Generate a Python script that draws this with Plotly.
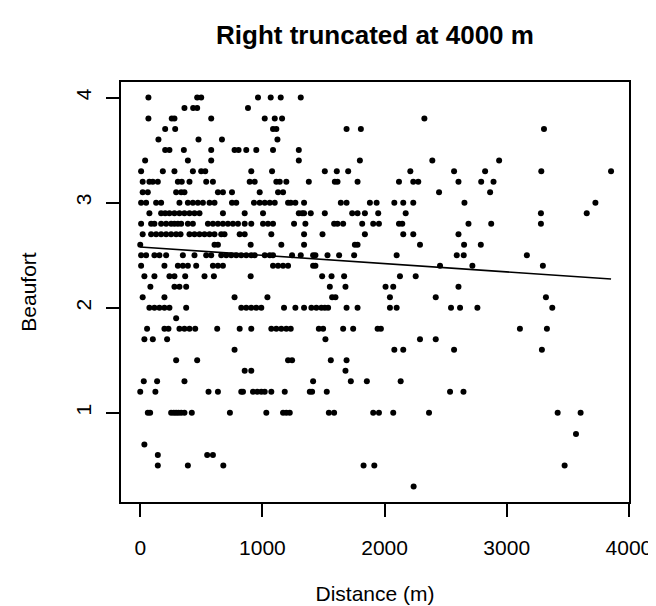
import plotly.graph_objects as go

# Distances (m) read per Beaufort level
b40 = [67, 466, 499, 964, 1068, 1150, 1314]
b39 = [362, 433, 466, 882]
b38 = [67, 258, 280, 581, 1019, 1101, 1161, 2326]
b37 = [204, 286, 1087, 1114, 1689, 1806, 3305]
b36 = [149, 477, 669, 1123]
b35 = [204, 239, 357, 581, 772, 805, 868, 950, 1087, 1298]
b34 = [40, 390, 581, 1298, 1798, 2391, 2938]
b33 = [7, 185, 280, 431, 499, 532, 909, 1079, 1511, 1609, 1702, 2211, 2569, 2823, 3283, 3854]
b32 = [20, 75, 103, 144, 308, 340, 403, 540, 595, 896, 937, 1114, 1142, 1196, 1380, 1593,
       1615, 1779, 2118, 2235, 2276, 2605, 2791, 2892]
b31 = [20, 62, 294, 335, 362, 636, 677, 751, 978, 1128, 1169, 2446, 2864]
b30 = [7, 48, 130, 171, 321, 390, 431, 472, 513, 567, 608, 751, 786, 931, 978, 1019, 1060,
       1101, 1210, 1232, 1270, 1341, 1642, 1689, 1880, 1935, 2080, 2153, 2235, 2654, 3726]
b29 = [75, 171, 204, 239, 280, 321, 362, 403, 444, 485, 677, 855, 1005, 1298, 1325, 1341,
       1396, 1511, 1735, 1779, 1839, 1948, 2173, 3280, 3655]
b28 = [7, 89, 116, 171, 212, 253, 280, 308, 335, 390, 431, 554, 595, 636, 677, 718, 759, 800,
       855, 909, 1005, 1046, 1087, 1259, 1352, 1587, 1615, 1661, 1817, 1907, 1954, 2118, 2145,
       2687, 2873, 3280]
b27 = [20, 89, 130, 171, 212, 253, 294, 330, 403, 444, 485, 526, 567, 608, 663, 690, 814, 855,
       1073, 1341, 1492, 1839, 2153, 2235, 2605]
b26 = [0, 608, 636, 904, 1155, 1341, 1757, 1779, 2290, 2651, 2788]
b25 = [7, 48, 116, 157, 212, 349, 444, 540, 581, 663, 704, 745, 786, 827, 868, 909, 937, 1019,
       1060, 1087, 1243, 1314, 1415, 1434, 1533, 1628, 1751, 2099, 2591, 2648, 3165]
b24 = [7, 198, 308, 349, 390, 458, 595, 636, 677, 1087, 1128, 1169, 1210, 1415, 1434, 2454,
       2719, 3296]
b23 = [34, 116, 239, 280, 368, 526, 603, 904, 1489, 1566, 1669, 2126, 2255]
b22 = [83, 280, 321, 376, 1552, 1680, 2008, 2071, 2605]
b21 = [20, 198, 772, 1041, 1571, 1598, 2044, 2419, 3321]
b20 = [75, 116, 157, 198, 239, 376, 827, 868, 909, 950, 991, 1177, 1270, 1341, 1401, 1442,
       1483, 1511, 1538, 1689, 1779, 2044, 2099, 2544, 2618, 2760, 3373]
b19 = [294]
b18 = [56, 198, 231, 321, 362, 403, 450, 630, 814, 909, 1073, 1114, 1155, 1196, 1232, 1462,
       1497, 1661, 1743, 1943, 1970, 3108, 3329]
b17 = [34, 103, 220, 1516, 2290, 2419]
b16 = [772, 2080, 2153, 2569, 3288]
b15 = [294, 466, 1210, 1243, 1560, 1689]
b14 = [855, 909, 1680]
b13 = [29, 138, 362, 1415, 1724, 1855, 2132]
b12 = [0, 124, 559, 636, 827, 841, 923, 958, 991, 1019, 1073, 1183, 1388, 1407, 1527, 2536, 2646]
b10 = [62, 81, 253, 275, 294, 313, 335, 362, 422, 734, 1032, 1169, 1196, 1224, 1544, 1587,
       1907, 1954, 2071, 2364, 3417, 3605]
b08 = [3567]
b07 = [34]
b06 = [144, 548, 595]
b05 = [144, 390, 680, 1828, 1916, 3474]
b03 = [2238]

levels = [(4.0, b40), (3.9, b39), (3.8, b38), (3.7, b37), (3.6, b36), (3.5, b35), (3.4, b34),
          (3.3, b33), (3.2, b32), (3.1, b31), (3.0, b30), (2.9, b29), (2.8, b28), (2.7, b27),
          (2.6, b26), (2.5, b25), (2.4, b24), (2.3, b23), (2.2, b22), (2.1, b21), (2.0, b20),
          (1.9, b19), (1.8, b18), (1.7, b17), (1.6, b16), (1.5, b15), (1.4, b14), (1.3, b13),
          (1.2, b12), (1.0, b10), (0.8, b08), (0.7, b07), (0.6, b06), (0.5, b05), (0.3, b03)]

distance = []
beaufort = []
for lev, dists in levels:
    distance.extend(dists)
    beaufort.extend([lev] * len(dists))

# Linear fit
fit_intercept = 2.578
fit_slope = -7.9e-5
fit_x = [min(distance), max(distance)]
fit_y = [fit_intercept + fit_slope * v for v in fit_x]

x_ticks = [0, 1000, 2000, 3000, 4000]
y_ticks = [1, 2, 3, 4]

FONT = "Liberation Sans, Arial, Helvetica, sans-serif"

fig = go.Figure()
fig.add_trace(go.Scatter(x=distance, y=beaufort, mode="markers",
                         marker=dict(color="black", size=6, line=dict(width=0)),
                         showlegend=False, hoverinfo="x+y"))
fig.add_trace(go.Scatter(x=fit_x, y=fit_y, mode="lines",
                         line=dict(color="black", width=1.6),
                         showlegend=False, hoverinfo="skip"))

fig.update_layout(
    width=656, height=606, autosize=False,
    margin=dict(l=113, r=35, t=74, b=104, pad=0),
    paper_bgcolor="white", plot_bgcolor="white",
    font=dict(family=FONT, size=21, color="black"),
    title=dict(text="<b>Right truncated at 4000 m</b>", font=dict(family=FONT, size=26, color="black"),
               x=0.5, xref="paper", xanchor="center", y=1 - 27 / 606, yref="container",
               yanchor="middle"),
    xaxis=dict(range=[-157.5, 4001], tickvals=x_ticks, ticktext=[str(v) for v in x_ticks],
               ticks="outside", ticklen=13, tickwidth=1.5, tickcolor="black",
               showline=True, mirror=True, linecolor="black", linewidth=1.5,
               showgrid=False, zeroline=False, ticklabelstandoff=13,
               title=dict(text="Distance (m)", standoff=28, font=dict(size=21))),
    yaxis=dict(range=[0.152, 4.148], tickvals=y_ticks, ticktext=[str(v) for v in y_ticks],
               tickangle=-90,
               ticks="outside", ticklen=13, tickwidth=1.5, tickcolor="black",
               showline=True, mirror=True, linecolor="black", linewidth=1.5,
               showgrid=False, zeroline=False, ticklabelstandoff=7,
               title=dict(text="Beaufort", standoff=29, font=dict(size=21))),
)

fig.write_html("out.html")
